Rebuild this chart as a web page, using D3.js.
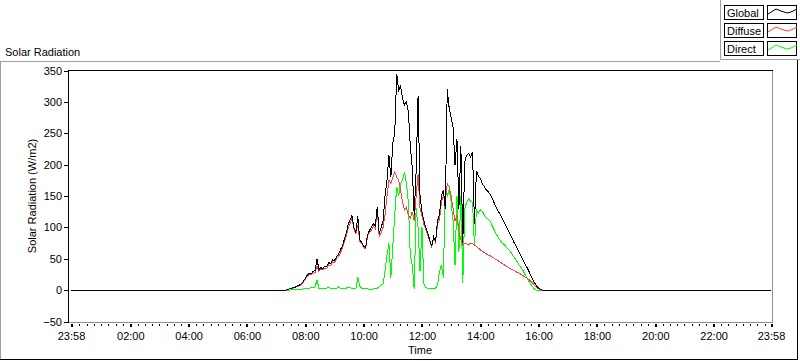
<!DOCTYPE html>
<html>
<head>
<meta charset="utf-8">
<script src="https://cdn.jsdelivr.net/npm/d3@7"></script>
<style>
  body { margin: 0; background: #fff; }
  svg text { font-family: "Liberation Sans", Arial, sans-serif; font-size: 11px; fill: #000; }
</style>
</head>
<body>
<svg id="chart" width="800" height="361"></svg>
<script>
// samples every 4 minutes starting 07:12, night values are 0
const sampleStart = "07:12";
const sampleStepMin = 4;

const globalVals = [0,0,0,1,2,3,4,5,7,8,10,14,19,24,27,26,30,31,50,33,
  36,34,38,37,44,42,48,47,53,57,64,70,80,90,104,112,119,100,92,118,
  80,76,70,68,88,95,100,106,102,133,90,100,110,150,175,215,180,235,250,345,
  318,325,305,295,300,285,230,195,120,190,310,150,125,110,100,90,80,70,85,78,
  110,120,150,160,130,320,290,275,260,200,240,130,230,75,205,215,218,212,220,105,
  190,182,178,170,165,160,157,153,147,140,133,127,122,116,110,104,97,91,85,78,
  72,66,60,54,48,42,36,30,23,17,11,6,3,1,0];

const diffuseVals = [0,0,0,1,2,3,4,5,6,7,9,13,17,22,25,24,27,28,38,30,
  33,32,35,34,40,39,45,44,50,53,59,66,76,85,98,106,114,98,90,104,
  78,74,68,66,86,92,96,102,98,128,86,92,100,120,150,175,170,180,188,180,
  175,160,140,128,132,120,115,125,110,150,185,130,118,105,97,88,78,69,83,76,
  105,112,140,150,140,170,165,150,130,110,120,95,80,72,75,74,72,75,74,72,
  70,67,64,62,60,58,56,55,53,51,49,47,45,43,41,39,37,35,33,32,
  30,28,27,25,23,21,19,17,14,11,7,4,2,1,0];

const directVals = [0,0,0,0,0,1,1,1,1,1,1,2,2,3,3,4,4,5,16,3,
  3,2,3,3,4,3,3,2,3,5,3,2,2,3,5,4,3,2,2,20,
  6,3,2,2,2,1,1,2,2,3,5,8,10,30,55,75,20,70,120,165,
  150,170,175,188,170,140,55,40,2,130,100,30,100,10,4,3,2,2,2,3,
  8,29,40,20,160,150,160,140,110,40,150,60,150,12,130,140,145,142,140,70,
  128,122,128,126,120,115,113,110,103,97,90,85,80,76,73,70,66,63,59,54,
  50,45,40,36,31,25,20,14,9,5,1,0,0,0,0];

const seriesNames = ["Global", "Diffuse", "Direct"];
const seriesColors = ["#000000", "#ff4040", "#00ff00"];
const yTicks = [-50, 0, 50, 100, 150, 200, 250, 300, 350];

const svg = d3.select("#chart");
const plot = { left: 68, right: 772, top: 70, bottom: 322 };

const day0 = new Date(2000, 0, 1, 23, 58);
const day1 = new Date(2000, 0, 2, 23, 58);
const parseHM = d3.timeParse("%H:%M");
const startT = parseHM(sampleStart);
const t0 = new Date(2000, 0, 2, startT.getHours(), startT.getMinutes());

function buildSeries(vals) {
  const pts = [{ t: day0, v: 0 }];
  vals.forEach((v, i) => pts.push({ t: d3.timeMinute.offset(t0, i * sampleStepMin), v }));
  pts.push({ t: day1, v: 0 });
  return pts;
}
const series = [globalVals, diffuseVals, directVals].map(buildSeries);

const x = d3.scaleTime().domain([day0, day1]).range([71, 771]);
const y = d3.scaleLinear().domain([-50, 350]).range([321.5, 70.5]);

// outer frame
svg.append("line").attr("x1", 0).attr("x2", 720).attr("y1", 61.5).attr("y2", 61.5).attr("stroke", "#a0a0a0");
svg.append("line").attr("x1", 0.5).attr("x2", 0.5).attr("y1", 61).attr("y2", 359).attr("stroke", "#a0a0a0");
svg.append("line").attr("x1", 0).attr("x2", 798).attr("y1", 359.5).attr("y2", 359.5).attr("stroke", "#000");
svg.append("line").attr("x1", 797.5).attr("x2", 797.5).attr("y1", 60).attr("y2", 360).attr("stroke", "#000");

svg.append("text").attr("x", 5).attr("y", 56).text("Solar Radiation");

// plot frame
svg.append("line").attr("x1", plot.right + 0.5).attr("x2", plot.right + 0.5).attr("y1", plot.top).attr("y2", plot.bottom + 1).attr("stroke", "#909090");
svg.append("line").attr("x1", plot.left).attr("x2", plot.right + 1).attr("y1", plot.bottom + 0.5).attr("y2", plot.bottom + 0.5).attr("stroke", "#909090");
svg.append("line").attr("x1", plot.left).attr("x2", plot.right + 1).attr("y1", plot.top + 0.5).attr("y2", plot.top + 0.5).attr("stroke", "#000");
svg.append("line").attr("x1", plot.left + 0.5).attr("x2", plot.left + 0.5).attr("y1", plot.top).attr("y2", plot.bottom + 1).attr("stroke", "#000");

// y axis
const yAxis = svg.append("g")
  .attr("transform", `translate(${plot.left},0)`)
  .call(d3.axisLeft(y).tickValues(yTicks).tickSize(4).tickPadding(2));
yAxis.select(".domain").remove();
yAxis.selectAll("line").attr("shape-rendering", "crispEdges");
yAxis.selectAll("text").style("font-family", "Liberation Sans, Arial, sans-serif").style("font-size", "11px");

svg.append("text")
  .attr("transform", `translate(36,${(plot.top + plot.bottom) / 2}) rotate(-90)`)
  .attr("text-anchor", "middle")
  .text("Solar Radiation (W/m2)");

// x axis: majors every 2h plus both ends, minors every 15 min
const majors = [day0]
  .concat(d3.timeHour.every(2).range(d3.timeHour.offset(day0, 1), day1))
  .concat([day1]);
const minors = d3.timeMinute.every(15).range(day0, day1)
  .filter(d => !majors.some(m => Math.abs(m - d) < 60000 * 5));

const fmt = d3.timeFormat("%H:%M");
const xAxis = svg.append("g")
  .attr("transform", `translate(0,${plot.bottom + 2})`)
  .call(d3.axisBottom(x).tickValues(majors).tickFormat(fmt).tickSize(3).tickPadding(5));
xAxis.select(".domain").remove();
xAxis.selectAll(".tick line").attr("stroke-width", 2).attr("shape-rendering", "crispEdges");
xAxis.selectAll("text").style("font-family", "Liberation Sans, Arial, sans-serif").style("font-size", "11px");

svg.append("g").selectAll("line").data(minors).join("line")
  .attr("x1", d => Math.round(x(d)) + 0.5).attr("x2", d => Math.round(x(d)) + 0.5)
  .attr("y1", plot.bottom + 2).attr("y2", plot.bottom + 4)
  .attr("stroke", "#000");

svg.append("text").attr("x", (plot.left + plot.right) / 2).attr("y", 354)
  .attr("text-anchor", "middle").text("Time");

// data lines: direct first, global on top
const line = d3.line().x(d => x(d.t)).y(d => y(d.v));
const lines = svg.append("g");
[2, 1, 0].forEach(k => {
  lines.append("path").datum(series[k])
    .attr("fill", "none")
    .attr("stroke", seriesColors[k])
    .attr("stroke-width", 1)
    .attr("shape-rendering", "crispEdges")
    .attr("d", line);
});

// legend
svg.append("line").attr("x1", 720.5).attr("x2", 720.5).attr("y1", 0).attr("y2", 60).attr("stroke", "#a0a0a0");
svg.append("line").attr("x1", 720).attr("x2", 800).attr("y1", 59.5).attr("y2", 59.5).attr("stroke", "#a0a0a0");
const swatch = [[0, 9], [8, 4], [13, 6], [19, 8], [23, 7], [29, 4]];
const leg = svg.append("g").selectAll("g").data(seriesNames).join("g")
  .attr("transform", (d, i) => `translate(724,${5 + i * 18})`);
leg.append("rect").attr("x", 0.5).attr("y", 0.5).attr("width", 39).attr("height", 14)
  .attr("fill", "#fff").attr("stroke", "#000");
leg.append("text").attr("x", 3).attr("y", 11.5).text(d => d);
leg.append("rect").attr("x", 43.5).attr("y", 0.5).attr("width", 29).attr("height", 14)
  .attr("fill", "#fff").attr("stroke", "#000");
leg.append("path")
  .attr("d", d3.line().x(p => 44 + p[0]).y(p => p[1])(swatch))
  .attr("fill", "none")
  .attr("stroke", (d, i) => seriesColors[i]);
</script>
</body>
</html>
